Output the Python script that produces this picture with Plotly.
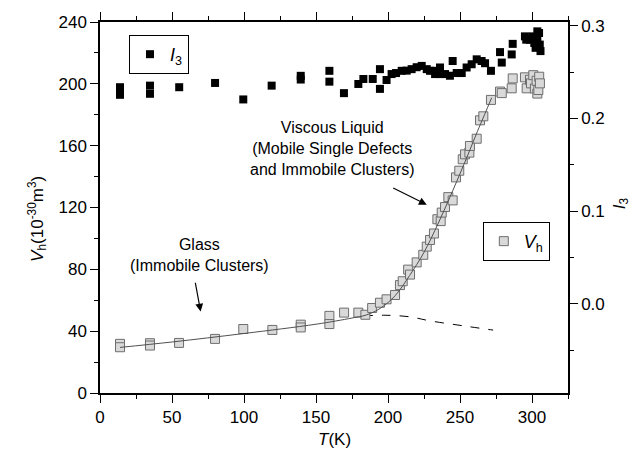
import plotly.graph_objects as go

# ---- data ----
T_vh = [13.9, 13.9, 34.7, 34.7, 54.9, 79.9, 99.5, 119.7, 139.4, 139.4, 159.3, 159.3,
        169.5, 179.4, 184.3, 189, 194.4, 199, 204.9, 208.3, 210.2, 214, 215.3, 219.9,
        224.5, 226.9, 229.2, 231.9, 234.3, 236.6, 237.3, 239.6, 241.9, 244.9, 247.2,
        249.5, 251.9, 253.5, 256.5, 256.9, 261.6, 263.9, 266.2, 271.5, 277.8, 279,
        285.9, 286.6, 295.1, 296.3, 298.6, 299.3, 300.9, 302, 303.2, 303.7, 304.4, 305, 305.5]
Vh = [31.8, 29.6, 32.2, 30.7, 32.4, 35, 41.4, 40.8, 44.2, 42.4, 49.9, 44.6,
      52, 52, 50.6, 55, 58.4, 60.6, 63.4, 69.8, 72.3, 79.8, 76.6, 84.5,
      89.4, 94.7, 99, 103.2, 112.4, 111.2, 116.7, 120.3, 126.7, 124.6, 139.5,
      143.8, 151.2, 154.4, 155.5, 159.8, 164.5, 176.4, 179, 189.6, 195, 194,
      197.1, 203.5, 204.2, 197.1, 202.6, 200.3, 205.6, 197, 202, 193.7, 196, 204.6, 200.3]

T_i3 = [13.9, 13.9, 34.7, 34.7, 55, 79.9, 99.5, 119.2, 139.4, 139.4, 159.3, 159.3,
        169.4, 179.4, 182.9, 189.4, 194.4, 194.4, 199, 202.5, 205.6, 209.5, 213, 216.4,
        219.9, 223.4, 226.9, 229.2, 232.7, 232.7, 236.1, 236.1, 239.6, 243, 244.9, 247.7,
        251.2, 254.6, 258.1, 261.6, 265, 267.4, 271.5, 277.8, 279, 285.9, 286.6, 295.1,
        296, 298.6, 300.5, 301.6, 302, 302.5, 303.7, 303.7, 304.9, 305.4, 305.9]
I3 = [0.2337, 0.2255, 0.2354, 0.2266, 0.2337, 0.2383, 0.2205, 0.2354, 0.246, 0.242, 0.2514, 0.2397,
      0.2273, 0.2372, 0.2426, 0.2426, 0.2532, 0.2319, 0.2415, 0.2479, 0.249, 0.2514, 0.2516, 0.2532,
      0.2553, 0.2567, 0.2532, 0.2514, 0.2514, 0.2479, 0.255, 0.2479, 0.2479, 0.2461, 0.262, 0.249,
      0.249, 0.255, 0.2585, 0.2638, 0.262, 0.2596, 0.2514, 0.2716, 0.2603, 0.2691, 0.2805, 0.2886,
      0.285, 0.285, 0.2886, 0.2815, 0.285, 0.2762, 0.2868, 0.294, 0.2922, 0.2797, 0.2727]

fit_T = [13.9, 50, 100, 150, 175, 185, 195, 205, 215, 225, 235, 245, 255, 262, 267, 272]
fit_Vh = [29.5, 33, 38.5, 44.5, 48.5, 50.5, 55, 63, 76, 91, 110, 131, 153, 169, 180, 191]

glass_T = [183, 198, 215, 229, 252, 273]
glass_Vh = [49.9, 50.3, 49.3, 46.7, 43.5, 40.7]

x_ticks = [0, 50, 100, 150, 200, 250, 300]
y_ticks = [0, 40, 80, 120, 160, 200, 240]
y2_ticks = [0.0, 0.1, 0.2, 0.3]

FONT = "Liberation Sans, Arial, sans-serif"

fig = go.Figure()

fig.add_trace(go.Scatter(
    x=T_i3, y=I3, yaxis="y2", mode="markers", name="<i>I</i><sub>3</sub>",
    marker=dict(symbol="square", size=8, color="black", line=dict(width=0)),
    legend="legend"))

fig.add_trace(go.Scatter(
    x=glass_T, y=glass_Vh, mode="lines", showlegend=False,
    line=dict(color="black", width=1, dash="dash", shape="spline")))

fig.add_trace(go.Scatter(
    x=T_vh, y=Vh, mode="markers", name="<i>V</i><sub>h</sub>",
    marker=dict(symbol="square", size=9, color="#d9d9d9",
                line=dict(color="#6e6e6e", width=1)),
    legend="legend2"))

fig.add_trace(go.Scatter(
    x=fit_T, y=fit_Vh, mode="lines", showlegend=False,
    line=dict(color="#505050", width=1, shape="spline")))

annotations = [
    dict(x=69.4, y=89, xref="x", yref="y", text="Glass<br>(Immobile Clusters)",
         showarrow=False, font=dict(size=16, color="black", family=FONT), align="center"),
    dict(x=161.8, y=158, xref="x", yref="y",
         text="Viscous Liquid<br>(Mobile Single Defects<br>and Immobile Clusters)",
         showarrow=False, font=dict(size=16, color="black", family=FONT), align="center"),
    dict(x=69.9, y=52.7, ax=66, ay=72.3, xref="x", yref="y", axref="x", ayref="y",
         text="", showarrow=True, arrowhead=2, arrowsize=1.3, arrowwidth=1.2, arrowcolor="black"),
    dict(x=226.9, y=121.8, ax=202.6, ay=133.1, xref="x", yref="y", axref="x", ayref="y",
         text="", showarrow=True, arrowhead=2, arrowsize=1.3, arrowwidth=1.2, arrowcolor="black"),
    dict(x=-0.165, y=0.47, xref="paper", yref="paper", textangle=-90,
         text="<i>V</i><sub>h</sub>(10<sup>-30</sup>m<sup>3</sup>)",
         showarrow=False, font=dict(size=17, color="black", family=FONT)),
    dict(x=0.5, y=-0.125, xref="paper", yref="paper", yanchor="middle",
         text="<i>T</i>(K)", showarrow=False, font=dict(size=17, color="black", family=FONT)),
    dict(x=1.14, y=0.51, xref="paper", yref="paper", textangle=-90,
         text="<i>I</i><sub>3</sub>", showarrow=False,
         font=dict(size=17, color="black", family=FONT)),
]

axis_common = dict(showline=True, linecolor="black", linewidth=1.5, showgrid=False,
                   zeroline=False, ticks="outside", tickcolor="black", tickwidth=1.2,
                   ticklen=8, tickfont=dict(size=17, color="black", family=FONT))

fig.update_layout(
    width=639, height=460, autosize=False,
    margin=dict(l=100, r=71, t=18, b=67),
    plot_bgcolor="white", paper_bgcolor="white",
    font=dict(family=FONT, color="black"),
    xaxis=dict(range=[0, 325], tickvals=x_ticks, mirror="ticks",
               minor=dict(ticks="outside", ticklen=4, dtick=25, tick0=0, tickcolor="black"),
               **axis_common),
    yaxis=dict(range=[0, 240], tickvals=y_ticks,
               minor=dict(ticks="outside", ticklen=4, dtick=20, tick0=0, tickcolor="black"),
               **axis_common),
    yaxis2=dict(range=[-0.0964, 0.3041], tickvals=y2_ticks, ticktext=["0.0", "0.1", "0.2", "0.3"],
                overlaying="y", side="right",
                minor=dict(ticks="outside", ticklen=4, dtick=0.05, tick0=0, tickcolor="black"),
                **axis_common),
    legend=dict(x=0.062, y=0.965, xanchor="left", yanchor="top",
                bordercolor="black", borderwidth=1, bgcolor="white",
                font=dict(size=18, family=FONT), itemwidth=30),
    legend2=dict(x=0.818, y=0.461, xanchor="left", yanchor="top",
                 bordercolor="black", borderwidth=1, bgcolor="white",
                 font=dict(size=18, family=FONT), itemwidth=30),
    annotations=annotations,
)

fig.write_html("out.html")
